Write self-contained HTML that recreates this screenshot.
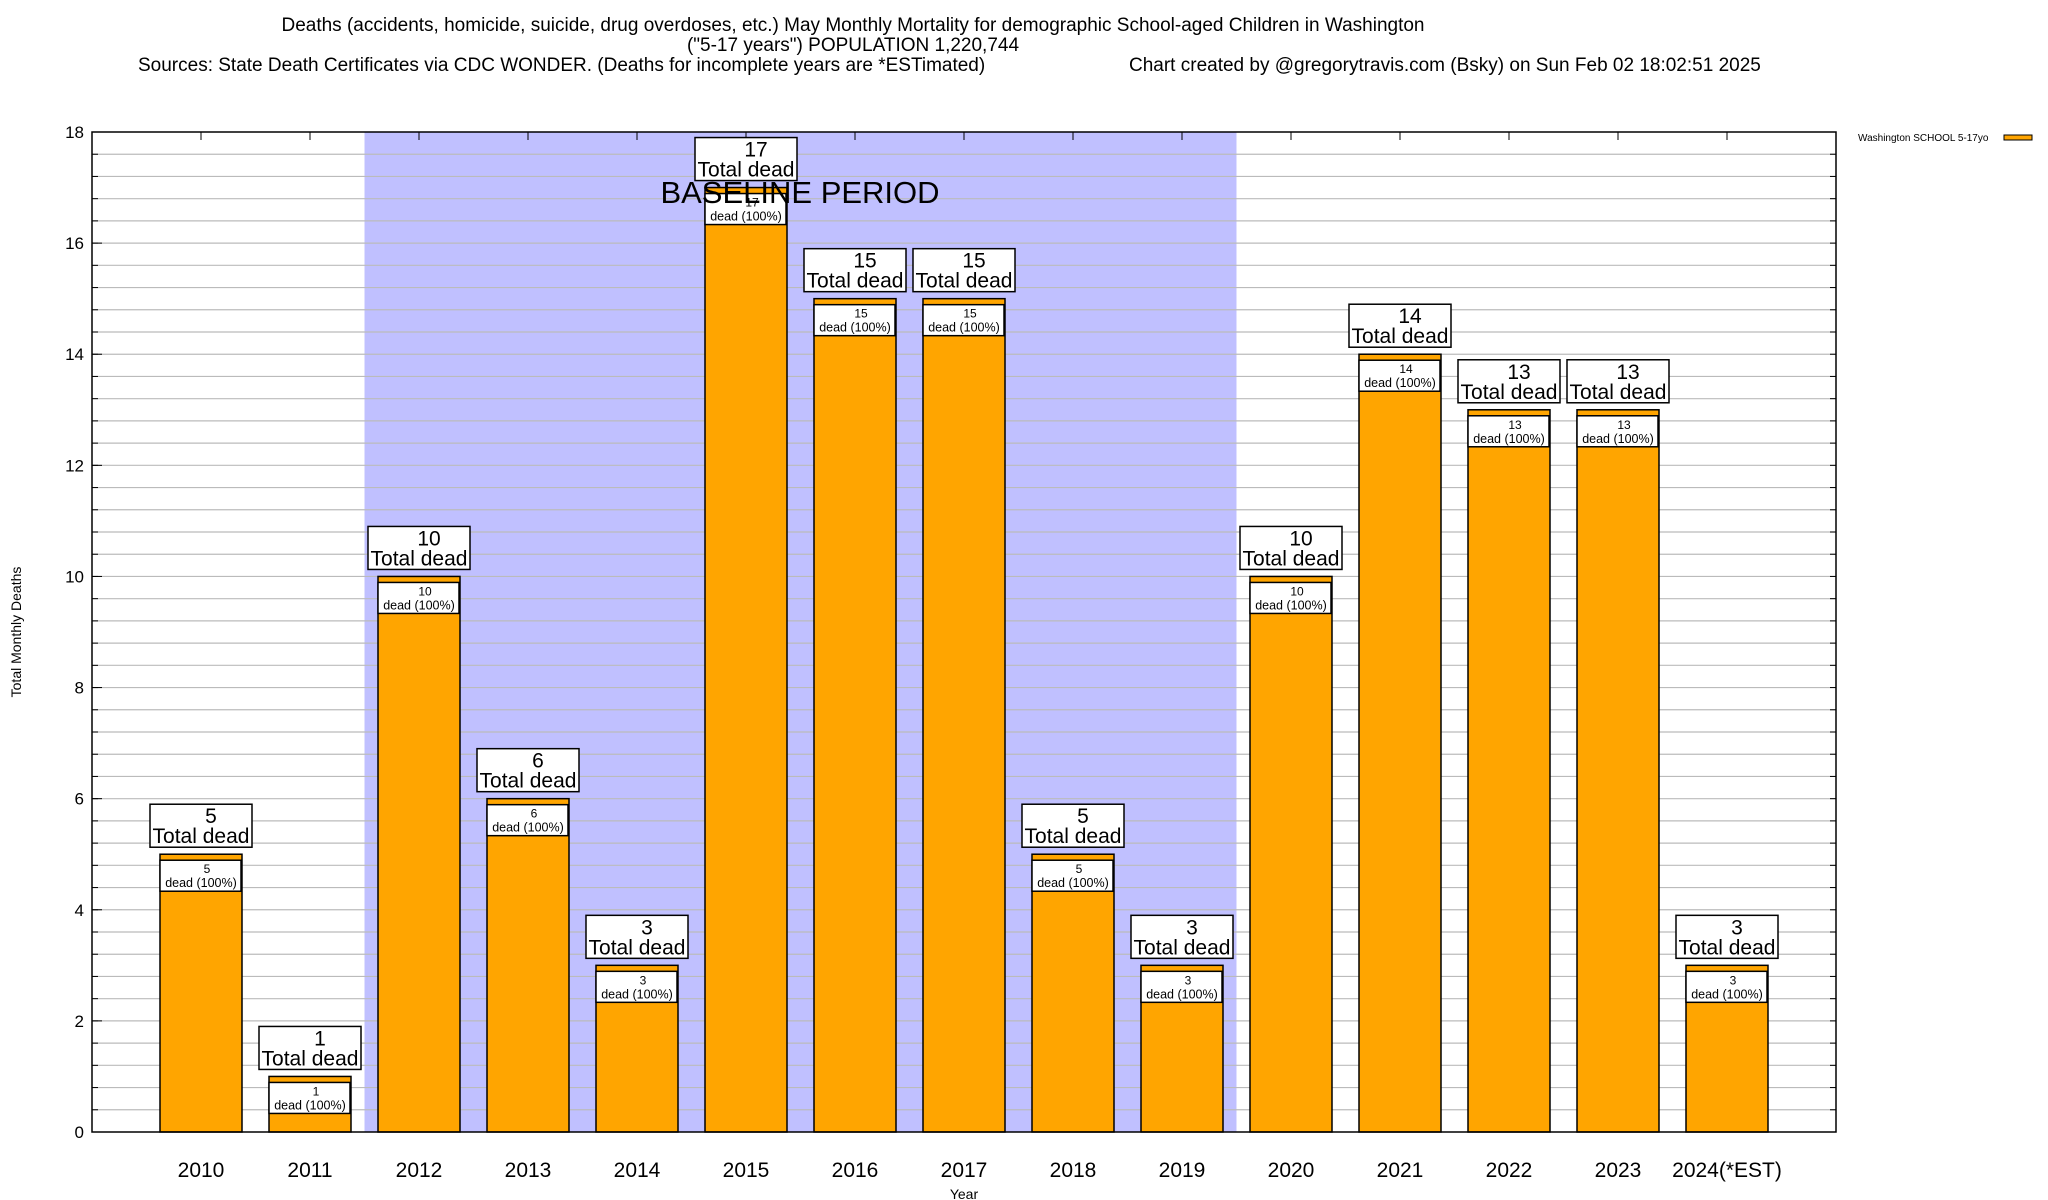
<!DOCTYPE html>
<html><head><meta charset="utf-8"><style>
body{margin:0;background:#fff}
svg{display:block;font-family:"Liberation Sans",sans-serif}
</style></head><body>
<svg id="chart" width="2048" height="1200" viewBox="0 0 2048 1200" xmlns="http://www.w3.org/2000/svg">
<g font-size="19" fill="#000">
<text x="853" y="31" text-anchor="middle">Deaths (accidents, homicide, suicide, drug overdoses, etc.) May Monthly Mortality for demographic School-aged Children in Washington</text>
<text x="853" y="51" text-anchor="middle">("5-17 years") POPULATION 1,220,744</text>
<text x="138" y="71">Sources: State Death Certificates via CDC WONDER. (Deaths for incomplete years are *ESTimated)</text>
<text x="1129" y="71">Chart created by @gregorytravis.com (Bsky) on Sun Feb 02 18:02:51 2025</text>
</g>
<g id="plot"></g>
</svg>
<script>
const categories=["2010","2011","2012","2013","2014","2015","2016","2017","2018","2019","2020","2021","2022","2023","2024(*EST)"];
const deaths=[5,1,10,6,3,17,15,15,5,3,10,14,13,13,3];
const yTicks=[0,2,4,6,8,10,12,14,16,18];
const baseline=[1.5,9.5];
const L=92,R=1836,T=132,B=1132,yMax=18;
const xs=i=>L+(i+1)*(R-L)/16;
const ys=v=>B-v*(B-T)/yMax;
const NS="http://www.w3.org/2000/svg";
const g=document.getElementById('plot');
function mk(t,a,p){const e=document.createElementNS(NS,t);for(const k in a)e.setAttribute(k,a[k]);(p||g).appendChild(e);return e;}
const unit=(R-L)/16;
let e=mk('rect',{x:xs(baseline[0]),y:T,width:xs(baseline[1])-xs(baseline[0]),height:B-T,fill:'#c0c0ff'});


for(let v=0.4;v<yMax-0.01;v+=0.4){
 const yy=ys(v);
 e=mk('line',{x1:L,x2:R,y1:yy,y2:yy,stroke:'#bbb','stroke-width':1.2});
 
 
 mk('line',{x1:L,x2:L+6,y1:yy,y2:yy,stroke:'#000'});
 mk('line',{x1:R-6,x2:R,y1:yy,y2:yy,stroke:'#000'});
}
yTicks.forEach(t=>{
 e=mk('text',{x:L-8,y:ys(t)+6,'text-anchor':'end','font-size':17});
 e.textContent=t;
 
 
 mk('line',{x1:L,x2:L+10,y1:ys(t),y2:ys(t),stroke:'#000'});
});
e=mk('text',{x:0,y:0,'font-size':14,'text-anchor':'middle',transform:`translate(21,${(T+B)/2}) rotate(-90)`});
e.textContent='Total Monthly Deaths';


e=mk('text',{x:xs(7),y:1199,'font-size':14,'text-anchor':'middle'});
e.textContent='Year';


const bw=82;
categories.forEach((c,i)=>{
 const cx=xs(i),v=deaths[i],top=ys(v);
 mk('line',{x1:cx,x2:cx,y1:T,y2:T+8,stroke:'#000'});
 const bar=mk('rect',{x:cx-bw/2,y:top,width:bw,height:B-top,fill:'#ffa500',stroke:'#000','stroke-width':1.5});
 
 
 const ib=mk('rect',{x:cx-bw/2,y:top+6,width:bw-1,height:31,fill:'#fff',stroke:'#000','stroke-width':1.5});
 
 
 let t=mk('text',{x:cx+6,y:top+19,'font-size':12,'text-anchor':'middle'});t.textContent=v;
 
 
 t=mk('text',{x:cx,y:top+33,'font-size':12.5,'text-anchor':'middle'});t.textContent='dead (100%)';
 
 
 const ob=mk('rect',{x:cx-51,y:top-50,width:102,height:43,fill:'#fff',stroke:'#000','stroke-width':1.5});
 
 
 t=mk('text',{x:cx+10,y:top-31,'font-size':21,'text-anchor':'middle'});t.textContent=v;
 
 
 t=mk('text',{x:cx,y:top-11,'font-size':21,'text-anchor':'middle'});t.textContent='Total dead';
 
 
 t=mk('text',{x:cx,y:1177,'font-size':21,'text-anchor':'middle'});t.textContent=c;
 
 
});
e=mk('text',{x:800,y:203,'font-size':31,'text-anchor':'middle'});
e.textContent='BASELINE PERIOD';


e=mk('rect',{x:L,y:T,width:R-L,height:B-T,fill:'none',stroke:'#000','stroke-width':1.5});


const lg=mk('g',{});


e=mk('text',{x:1858,y:141,'font-size':10},lg);e.textContent='Washington SCHOOL 5-17yo';
mk('rect',{x:2004,y:135,width:28,height:5,fill:'#ffa500',stroke:'#000','stroke-width':1},lg);
</script>
</body></html>
